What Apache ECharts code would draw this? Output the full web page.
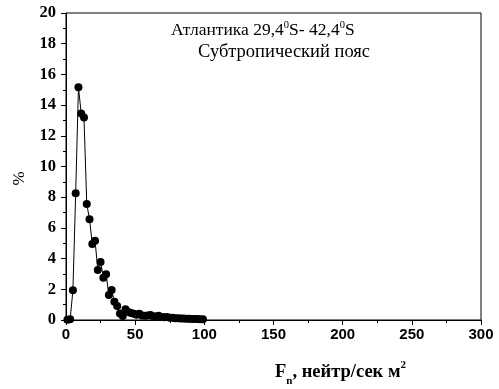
<!DOCTYPE html>
<html><head><meta charset="utf-8">
<script src="https://cdn.jsdelivr.net/npm/echarts@6/dist/echarts.min.js"></script>
<style>html,body{margin:0;padding:0;background:#fff}#c{width:499px;height:389px}</style>
</head><body><div id="c"></div>
<script>
const fluxValues = [1,3,5,7,9,11,13,15,17,19,21,23,25,27,29,31,33,35,37,39,41,43,45,47,49,51,53,55,57,59,61,63,65,67,69,71,73,75,77,79,81,83,85,87,89,91,93,95,97,99];
const percentValues = [0.02,0.05,1.93,8.25,15.16,13.46,13.2,7.56,6.56,4.95,5.17,3.26,3.78,2.76,2.98,1.63,1.95,1.19,0.91,0.43,0.26,0.7,0.52,0.45,0.4,0.35,0.4,0.3,0.27,0.3,0.33,0.24,0.22,0.28,0.2,0.18,0.2,0.15,0.14,0.12,0.12,0.1,0.1,0.08,0.08,0.07,0.06,0.06,0.05,0.05];
const xTicks = [0,50,100,150,200,250,300];
const yTicks = [0,2,4,6,8,10,12,14,16,18,20];
const title1 = 'Атлантика 29,4';
const title2 = 'Субтропический пояс';

const chart = echarts.init(document.getElementById('c'), null, {renderer:'canvas'});
const serif = '"Liberation Serif", "Times New Roman", serif';
const sans = '"Liberation Sans", Arial, sans-serif';
chart.setOption({
  animation:false,
  backgroundColor:'#fff',
  grid:{left:66,right:18,top:13,bottom:69,outerBoundsMode:'none',containLabel:false,show:true,borderColor:'#000',borderWidth:1,backgroundColor:'transparent'},
  xAxis:{type:'value',min:xTicks[0],max:xTicks[xTicks.length-1],interval:50,
    axisLine:{onZero:false,lineStyle:{color:'#000',width:1}},
    axisTick:{show:true,length:5,lineStyle:{color:'#000'}},
    minorTick:{show:true,splitNumber:2,length:3,lineStyle:{color:'#000'}},
    splitLine:{show:false},
    axisLabel:{color:'#000',fontFamily:sans,fontWeight:'bold',fontSize:15,margin:7},
    name:'{a|F}{s|n}{a|, нейтр/сек м}{p|2}',nameLocation:'middle',nameGap:40,
    nameTextStyle:{padding:[0,0,0,134],rich:{
      a:{fontFamily:serif,fontWeight:'bold',fontSize:18.5,color:'#000',verticalAlign:'bottom',lineHeight:22},
      s:{fontFamily:serif,fontWeight:'bold',fontSize:11,color:'#000',padding:[0,0,-5,0],verticalAlign:'bottom',lineHeight:22},
      p:{fontFamily:serif,fontWeight:'bold',fontSize:11,color:'#000',padding:[0,0,11,0],verticalAlign:'bottom',lineHeight:22}
    }}
  },
  yAxis:{type:'value',min:yTicks[0],max:yTicks[yTicks.length-1],interval:2,
    axisLine:{show:true,lineStyle:{color:'#000',width:1}},
    axisTick:{show:true,length:5,lineStyle:{color:'#000'}},
    minorTick:{show:true,splitNumber:2,length:3,lineStyle:{color:'#000'}},
    splitLine:{show:false},
    axisLabel:{color:'#000',fontFamily:serif,fontWeight:'bold',fontSize:16.5,margin:10},
    name:'%',nameLocation:'middle',nameGap:38,nameRotate:90,
    nameTextStyle:{fontFamily:serif,fontSize:17,color:'#000',padding:[0,24,0,0]}
  },
  graphic:[
    {type:'text',left:171,top:20,style:{
      text:'{a|'+title1+'}{p|0}{a|S- 42,4}{p|0}{a|S}',
      rich:{a:{fontFamily:serif,fontSize:17.5,fill:'#000',verticalAlign:'bottom',lineHeight:20},
            p:{fontFamily:serif,fontSize:10.5,fill:'#000',verticalAlign:'bottom',lineHeight:20,padding:[0,0,8,0]}}}},
    {type:'text',left:198,top:43,style:{text:title2,fontFamily:serif,fontSize:18.5,fill:'#000'}}
  ],
  series:[{type:'line',data:fluxValues.map((x,i)=>[x,percentValues[i]]),
    symbol:'circle',symbolSize:8,showSymbol:true,
    lineStyle:{color:'#000',width:1},itemStyle:{color:'#000'}}]
});
</script></body></html>
